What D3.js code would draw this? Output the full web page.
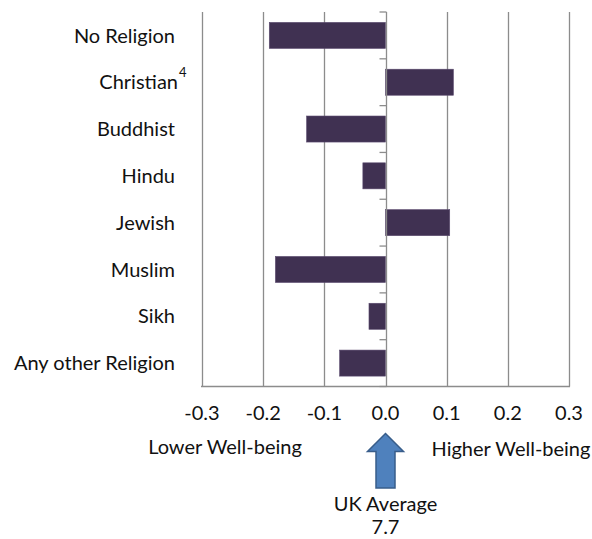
<!DOCTYPE html>
<html>
<head>
<meta charset="utf-8">
<script src="https://cdn.jsdelivr.net/npm/d3@7"></script>
<style>
  html, body { margin: 0; padding: 0; background: #fff; }
  svg { display: block; }
  text { font-family: Lato, "Open Sans", sans-serif; fill: #111; }
</style>
</head>
<body>
<svg id="chart" width="592" height="539"></svg>
<script>
const categories = ["No Religion", "Christian", "Buddhist", "Hindu", "Jewish", "Muslim", "Sikh", "Any other Religion"];
const values = [-0.19, 0.111, -0.129, -0.037, 0.105, -0.18, -0.027, -0.075];
const superscripts = ["", "4", "", "", "", "", "", ""];
const tickValues = [-0.3, -0.2, -0.1, 0.0, 0.1, 0.2, 0.3];
const lowerLabel = "Lower Well-being";
const higherLabel = "Higher Well-being";
const averageLabel = ["UK Average", "7.7"];

const svg = d3.select("#chart");
const x = d3.scaleLinear().domain([-0.3, 0.3]).range([202, 569]);
const y = d3.scaleBand().domain(categories).range([12, 386.5]).paddingInner(0.444).paddingOuter(0.222);
const yb = d3.scaleBand().domain(categories).range([12, 386.5]);

const gridColor = "#8c8c8c";
const fs = "20px";

// gridlines (excluding zero axis)
svg.append("g").selectAll("line").data(tickValues.filter(d => d !== 0)).join("line")
  .attr("x1", d => Math.round(x(d)) + 0.5).attr("x2", d => Math.round(x(d)) + 0.5)
  .attr("y1", 12).attr("y2", 386.5)
  .attr("stroke", gridColor).attr("stroke-width", 1.3);

// bottom axis line
svg.append("line").attr("x1", 201).attr("x2", 570).attr("y1", 386.5).attr("y2", 386.5)
  .attr("stroke", gridColor).attr("stroke-width", 1.3);

// bars
svg.append("g").selectAll("rect").data(categories).join("rect")
  .attr("x", (d, i) => x(Math.min(0, values[i])))
  .attr("width", (d, i) => Math.abs(x(values[i]) - x(0)))
  .attr("y", d => y(d))
  .attr("height", y.bandwidth())
  .attr("fill", "#403152")
  .attr("stroke", "#5a4a6e").attr("stroke-width", 0.6);

// zero axis with ticks on band boundaries
const x0 = Math.round(x(0)) + 0.5;
svg.append("line").attr("x1", x0).attr("x2", x0).attr("y1", 12).attr("y2", 386.5)
  .attr("stroke", gridColor).attr("stroke-width", 1.3);
const bounds = categories.map(c => yb(c)).concat([386.5]);
svg.append("g").selectAll("line").data(bounds).join("line")
  .attr("x1", x0 - 7).attr("x2", x0).attr("y1", d => d).attr("y2", d => d)
  .attr("stroke", gridColor).attr("stroke-width", 1.3);

// category labels
svg.append("g").selectAll("text").data(categories).join("text")
  .attr("x", (d, i) => superscripts[i] ? 178 : 175)
  .attr("y", d => yb(d) + yb.bandwidth() / 2)
  .attr("dy", "0.36em")
  .attr("text-anchor", "end")
  .style("font-size", fs)
  .text(d => d);
svg.append("g").selectAll("text").data(categories.filter((d, i) => superscripts[i])).join("text")
  .attr("x", 179)
  .attr("y", d => yb(d) + yb.bandwidth() / 2 - 5)
  .style("font-size", "13px")
  .text(d => superscripts[categories.indexOf(d)]);

// x tick labels (hyphen-minus as in the reference)
svg.append("g").selectAll("text").data(tickValues).join("text")
  .attr("x", d => x(d)).attr("y", 413).attr("dy", "0.36em")
  .attr("text-anchor", "middle")
  .style("font-size", fs)
  .text(d => d3.format(".1f")(d).replace("\u2212", "-"));

// side labels
svg.append("text").attr("x", 225).attr("y", 447).attr("dy", "0.36em")
  .attr("text-anchor", "middle").style("font-size", fs).text(lowerLabel);
svg.append("text").attr("x", 511).attr("y", 449).attr("dy", "0.36em")
  .attr("text-anchor", "middle").style("font-size", fs).text(higherLabel);

// arrow at UK average
const cx = x(0);
const arrowPath = d3.path();
arrowPath.moveTo(cx, 433.5);
arrowPath.lineTo(cx + 18, 451.5);
arrowPath.lineTo(cx + 9.5, 451.5);
arrowPath.lineTo(cx + 9.5, 488);
arrowPath.lineTo(cx - 9.5, 488);
arrowPath.lineTo(cx - 9.5, 451.5);
arrowPath.lineTo(cx - 18, 451.5);
arrowPath.closePath();
svg.append("path").attr("d", arrowPath.toString())
  .attr("fill", "#4f81bd").attr("stroke", "#385d8a").attr("stroke-width", 1.5);

svg.append("g").selectAll("text").data(averageLabel).join("text")
  .attr("x", cx).attr("y", (d, i) => 504 + i * 22.5).attr("dy", "0.36em")
  .attr("text-anchor", "middle").style("font-size", fs).text(d => d);
</script>
</body>
</html>
